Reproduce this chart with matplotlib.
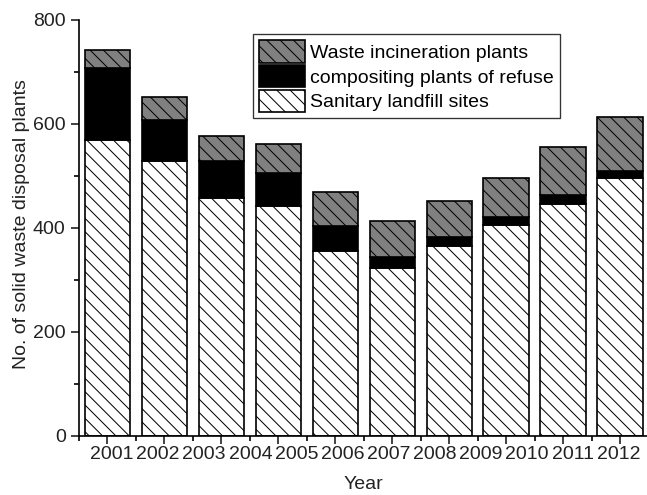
import numpy as np
import matplotlib
matplotlib.use("Agg")
import matplotlib.pyplot as plt
from matplotlib.ticker import MultipleLocator, FixedLocator

plt.rcParams['font.family'] = ['Liberation Sans', 'DejaVu Sans']
plt.rcParams['hatch.linewidth'] = 0.6

# values (10 bars, 12 year labels as in the original)
bar_pos = np.arange(1, 11)
landfill = [570, 528, 457, 443, 356, 324, 365, 406, 446, 497]
composting = [137, 80, 72, 63, 48, 21, 18, 16, 17, 13]
incineration = [35, 44, 47, 55, 66, 69, 68, 74, 93, 104]
year_labels = ['2001', '2002', '2003', '2004', '2005', '2006',
               '2007', '2008', '2009', '2010', '2011', '2012']

fig = plt.figure(figsize=(647 / 120, 495 / 120), dpi=120)
ax = fig.add_axes([79 / 647, 59 / 495, 568 / 647, 416 / 495])

w = 0.8
fs = 11.7
b1 = ax.bar(bar_pos, landfill, w, color='white', edgecolor='black',
            hatch='\\\\\\', linewidth=1.0, label='Sanitary landfill sites')
bottom2 = np.array(landfill)
b2 = ax.bar(bar_pos, composting, w, bottom=bottom2, color='black',
            edgecolor='black', linewidth=1.0,
            label='compositing plants of refuse')
bottom3 = bottom2 + np.array(composting)
b3 = ax.bar(bar_pos, incineration, w, bottom=bottom3, color='#808080',
            edgecolor='black', hatch='\\\\\\', linewidth=1.0,
            label='Waste incineration plants')

ax.set_xlim(0.5, 10.47)
ax.set_ylim(0, 800)

for s in ['top', 'right']:
    ax.spines[s].set_visible(False)
for s in ['left', 'bottom']:
    ax.spines[s].set_linewidth(1.0)

ax.yaxis.set_major_locator(MultipleLocator(200))
ax.yaxis.set_minor_locator(MultipleLocator(100))
ax.xaxis.set_major_locator(FixedLocator(bar_pos))
ax.xaxis.set_minor_locator(FixedLocator(np.arange(0.5, 11, 1)))
ax.set_xticklabels([])
ax.tick_params(axis='both', which='major', direction='out', length=5,
               width=1.0, labelsize=fs, colors='#222222')
ax.tick_params(axis='both', which='minor', direction='out', length=3,
               width=1.0)
ax.tick_params(axis='y', pad=3)

# the year labels are spread evenly under the axis
label_x = np.linspace(1.08, 9.98, len(year_labels))
for xp, lab in zip(label_x, year_labels):
    ax.text(xp, -0.024, lab, transform=ax.get_xaxis_transform(),
            ha='center', va='top', fontsize=fs, color='#222222')

ax.set_xlabel('Year', fontsize=fs, color='#222222')
ax.xaxis.set_label_coords(0.5, -0.096)
ax.set_ylabel('No. of solid waste disposal plants', fontsize=fs,
              color='#222222')
ax.yaxis.set_label_coords(-0.086, 0.51)

leg = ax.legend(handles=[b3, b2, b1], loc='upper left',
                bbox_to_anchor=(0.306, 0.966), borderaxespad=0,
                fontsize=fs, handlelength=2.4, handleheight=1.4,
                labelspacing=0.12, handletextpad=0.25, borderpad=0.3,
                fancybox=False, framealpha=1)
leg.get_frame().set_edgecolor('#333333')
leg.get_frame().set_linewidth(0.8)

plt.savefig('out.png', dpi=120)
